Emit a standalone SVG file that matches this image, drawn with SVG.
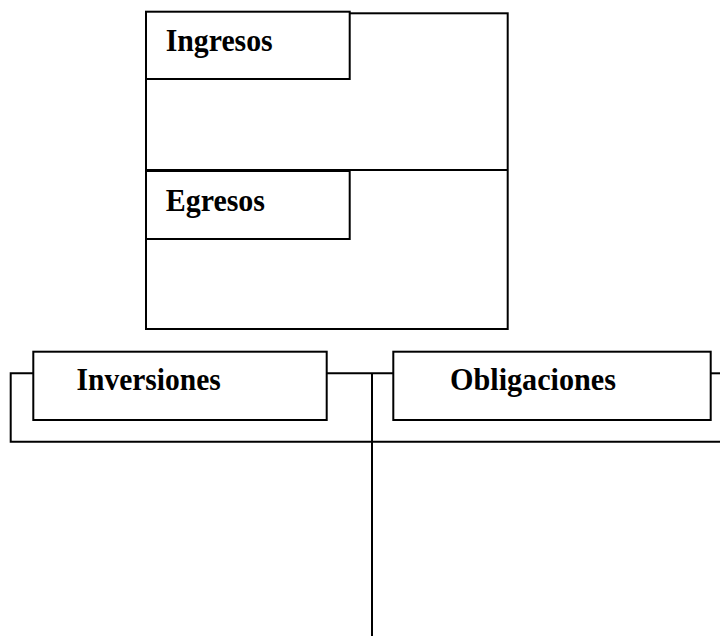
<svg xmlns="http://www.w3.org/2000/svg" width="720" height="639" viewBox="0 0 720 639">
<style>
.box{fill:#fff;stroke:#000;stroke-width:2}
.ln{fill:none;stroke:#000;stroke-width:2}
.lbl{font-family:"Liberation Serif","Times New Roman",serif;font-weight:bold;font-size:32px;fill:#000}
</style>
<rect width="720" height="639" fill="#fff"/>
<g id="panel">
<rect class="box" x="146" y="13.3" width="361.7" height="315.7"/>
<line class="ln" x1="146" y1="170" x2="507.7" y2="170"/>
</g>
<g id="connectors">
<polyline class="ln" points="33.3,373.3 10.7,373.3 10.7,441.7 720,441.7"/>
<line class="ln" x1="326.7" y1="373.3" x2="393.3" y2="373.3"/>
<line class="ln" x1="710.7" y1="373.3" x2="720" y2="373.3"/>
<line class="ln" x1="372" y1="373.3" x2="372" y2="636"/>
</g>
<g id="ingresos">
<rect class="box" x="146" y="11.7" width="203.7" height="67.3"/>
<text class="lbl" x="165.7" y="50.7" textLength="107" lengthAdjust="spacingAndGlyphs">Ingresos</text>
</g>
<g id="egresos">
<rect class="box" x="146" y="171" width="203.7" height="68"/>
<text class="lbl" x="165.7" y="210.7" textLength="99.3" lengthAdjust="spacingAndGlyphs">Egresos</text>
</g>
<g id="inversiones">
<rect class="box" x="33.3" y="351.7" width="293.4" height="68.3"/>
<text class="lbl" x="76.5" y="390.3" textLength="144.2" lengthAdjust="spacingAndGlyphs">Inversiones</text>
</g>
<g id="obligaciones">
<rect class="box" x="393.3" y="351.7" width="317.4" height="68.3"/>
<text class="lbl" x="450" y="390.3" textLength="166" lengthAdjust="spacingAndGlyphs">Obligaciones</text>
</g>
</svg>
